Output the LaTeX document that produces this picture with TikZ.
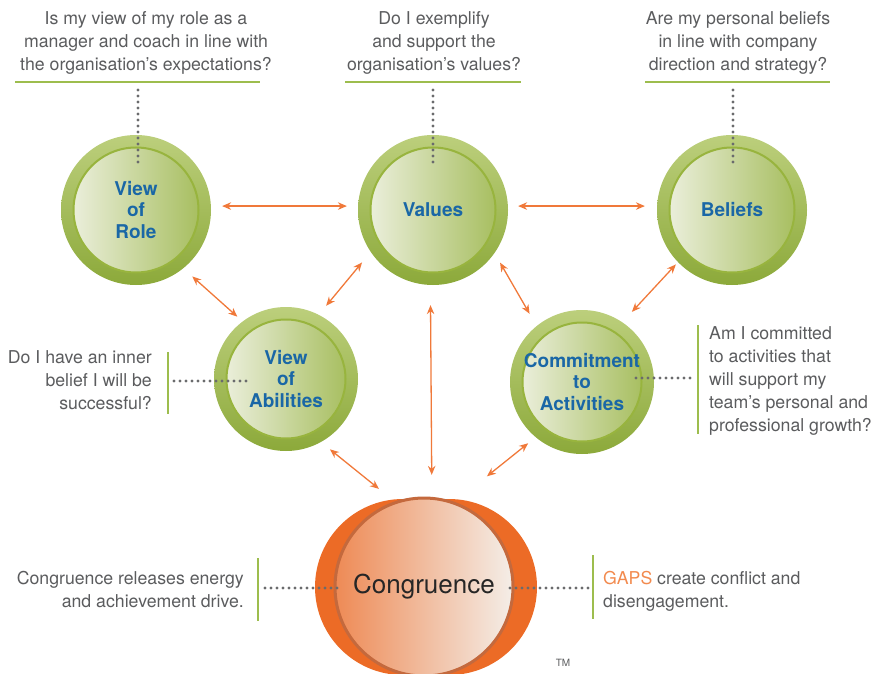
\documentclass[tikz,border=0pt]{standalone}
\usepackage{fontspec}
\setmainfont{TeX Gyre Heros}
\usetikzlibrary{arrows.meta}
\definecolor{qgrey}{HTML}{5B5C5E}
\definecolor{labelblue}{HTML}{1A67A6}
\definecolor{arrowor}{HTML}{F0793A}
\definecolor{gapsor}{HTML}{F28A4E}
\definecolor{rulegreen}{HTML}{9DBD4E}
\definecolor{dotgrey}{HTML}{6A6B6D}
\definecolor{ringtop}{HTML}{BCCF7C}
\definecolor{ringbot}{HTML}{8CA93A}
\definecolor{ringmid}{HTML}{98B43E}
\definecolor{innerL}{HTML}{F1F3E6}
\definecolor{innerR}{HTML}{A1BA55}
\definecolor{orangeback}{HTML}{EC6B26}
\definecolor{congrL}{HTML}{EE8A55}
\definecolor{congrR}{HTML}{F4EEE8}
\definecolor{congrring}{HTML}{C4693D}
\begin{document}
\begin{tikzpicture}[x=1pt,y=-1pt,
		question/.style={font=\fontsize{17.7}{23}\selectfont, text=qgrey, inner sep=0pt},
		greenball/.style={circle, minimum size=#1*2pt, inner sep=0pt, align=center,
				font=\fontsize{19}{21.8}\selectfont\bfseries, text=labelblue,
				top color=ringtop, bottom color=ringbot,
				path picture={
						\shade[left color=innerL, right color=innerR] (path picture bounding box.center) circle ({#1pt-13pt});
						\draw[ringmid, line width=2pt] (path picture bounding box.center) circle ({#1pt-12.5pt});
					}},
		orangeball/.style={circle, minimum size=178pt, inner sep=0pt, left color=congrL, right color=congrR,
				draw=congrring, line width=3pt, font=\fontsize{26}{30}\selectfont, text=black!85},
		link/.style={draw=arrowor, line width=1.3pt, {Stealth[length=9pt,width=7.5pt]}-{Stealth[length=9pt,width=7.5pt]}},
		dots/.style={draw=dotgrey, line width=3.2pt, line cap=round, dash pattern=on 0pt off 6pt},
		rule/.style={draw=rulegreen, line width=1.3pt},
	]
	\useasboundingbox (0,0) rectangle (891,674);
	\fill[orangeback] (403,587) circle (88pt) (449,587) circle (88pt);

	\node[greenball=75] (role) at (136,210) {View\\of\\Role};
	\node[greenball=75] (values) at (433,210) {Values};
	\node[greenball=75] (beliefs) at (732,210) {Beliefs};
	\node[greenball=72] (abilities) at (286,379) {View\\of\\Abilities};
	\node[greenball=72] (commit) at (582,382) {Commitment\\to\\Activities};
	\node[orangeball] (congr) at (424,587) {Congruence};

	\node[question, anchor=north, align=center] (qrole) at (146,11) {Is my view of my role as a\\manager and coach in line with\\the organisation's expectations?};
	\node[question, anchor=north, align=center] (qvalues) at (434,11) {Do I exemplify\\and support the\\organisation's values?};
	\node[question, anchor=north, align=center] (qbeliefs) at (738,11) {Are my personal beliefs\\in line with company\\direction and strategy?};
	\node[question, anchor=north east, align=right] (qabilities) at (152,350) {Do I have an inner\\belief I will be\\successful?};
	\node[question, anchor=north west, align=left] (qcommit) at (709,326) {Am I committed\\to activities that\\will support my\\team's personal and\\professional growth?};
	\node[question, anchor=north east, align=right] (release) at (244,571) {Congruence releases energy\\and achievement drive.};
	\node[question, anchor=north west, align=left] (gaps) at (603,571) {{\color{gapsor}GAPS} create conflict and\\disengagement.};
	\node[font=\fontsize{10}{12}\selectfont, text=qgrey] (tm) at (563,663) {TM};

	\draw[rule] (15,82) -- (260,82);
	\draw[rule] (345,82) -- (521,82);
	\draw[rule] (645,82) -- (830,82);
	\draw[rule] (168,352) -- (168,414);
	\draw[rule] (698,325) -- (698,434);
	\draw[rule] (258,558) -- (258,621);
	\draw[rule] (593,555) -- (593,619);

	\coordinate (uRole) at (138,82);
	\coordinate (uValues) at (433,82);
	\coordinate (uBeliefs) at (733,82);
	\coordinate (vAb) at (168,381);
	\coordinate (vCo) at (698,378);
	\coordinate (vCgL) at (258,588);
	\coordinate (vCgR) at (593,588);
	\draw[dots, shorten <=8pt, shorten >=45pt] (uRole) -- (uRole |- role.center);
	\draw[dots, shorten <=8pt, shorten >=45pt] (uValues) -- (uValues |- values.center);
	\draw[dots, shorten <=8pt, shorten >=47pt] (uBeliefs) -- (uBeliefs |- beliefs.center);
	\draw[dots, shorten <=6pt, shorten >=36pt] (vAb) -- (vAb -| abilities.center);
	\draw[dots, shorten <=54pt, shorten >=4pt] (vCo -| commit.center) -- (vCo);
	\draw[dots, shorten <=7pt, shorten >=84pt] (vCgL) -- (vCgL -| congr.center);
	\draw[dots, shorten <=86pt, shorten >=5pt] (vCgR -| congr.center) -- (vCgR);

	\draw[link, shorten <=11pt, shorten >=11pt] (role.3) -- (values.177);
	\draw[link, shorten <=10pt, shorten >=12pt] (values.3) -- (beliefs.177);
	\draw[link, shorten <=12pt, shorten >=7pt] (role.-51) -- (abilities.127);
	\draw[link, shorten <=13.5pt, shorten >=11.5pt] (values.214) -- (abilities.63);
	\draw[link, shorten <=11pt, shorten >=14pt] (values.-35) -- (commit.129);
	\draw[link, shorten <=3pt, shorten >=14pt] (beliefs.224) -- (commit.56);
	\draw[link, shorten <=20pt, shorten >=22pt] (values.268) -- (congr.85.5);
	\draw[link, shorten <=11.5pt, shorten >=20pt] (abilities.-61) -- (congr.109);
	\draw[link, shorten <=9.5pt, shorten >=41pt] (commit.230) -- (congr.70);
\end{tikzpicture}
\end{document}
